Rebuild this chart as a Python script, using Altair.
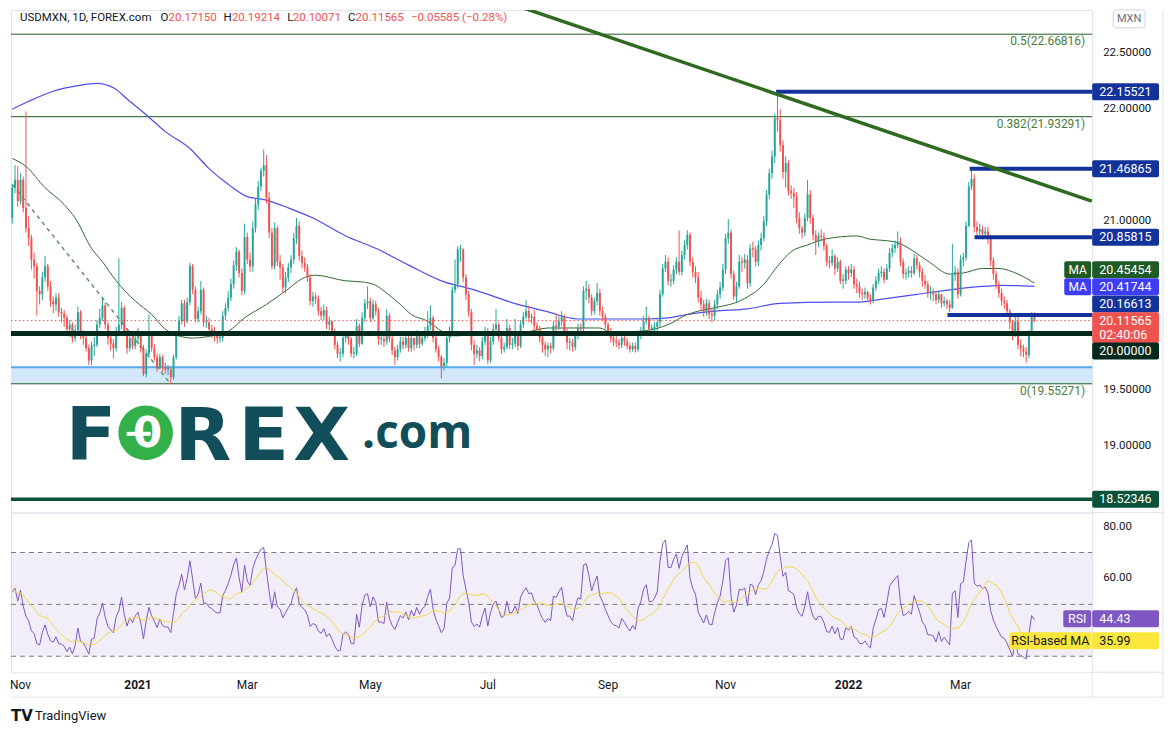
import altair as alt
import pandas as pd
import numpy as np

# ---------------- data ----------------
first_open = 21.03
closes = [
 21.30,21.37,21.18,21.37,21.12,20.94,20.85,20.66,20.60,20.38,20.35,20.50,20.60,20.42,20.29,20.26,20.32,20.19,20.18,20.14,
 20.04,20.08,19.96,20.03,20.19,19.98,19.96,19.87,19.76,19.89,19.90,20.08,20.14,20.25,20.08,19.96,19.91,19.87,20.02,20.08,
 20.23,20.02,19.87,19.96,19.89,19.96,20.00,19.87,19.64,19.82,19.98,19.87,19.79,19.70,19.79,19.70,19.68,19.68,19.61,19.79,20.00,
 20.11,20.27,20.11,20.28,20.60,20.39,20.13,20.20,20.39,20.10,20.10,20.04,20.02,19.98,19.96,19.96,20.16,20.23,20.32,20.44,
 20.61,20.73,20.54,20.38,20.86,20.66,20.60,20.94,21.15,21.31,21.45,21.50,21.21,20.90,20.60,20.94,20.64,20.59,20.41,20.50,
 20.59,20.66,20.85,20.96,20.69,20.63,20.59,20.50,20.29,20.33,20.31,20.20,20.16,20.21,20.08,20.11,20.02,19.90,19.82,19.82,19.96,
 19.98,19.95,19.82,19.82,20.07,19.91,20.14,20.27,20.29,20.14,20.26,20.20,19.95,19.95,19.93,20.16,19.95,19.85,19.79,19.86,
 19.93,19.90,19.96,19.87,19.96,19.90,19.98,19.91,19.96,19.98,20.07,20.14,19.96,19.86,19.79,19.71,19.74,19.96,20.01,20.39,
 20.44,20.75,20.75,20.50,20.35,20.19,19.90,19.82,19.85,19.80,19.93,
 20.02,19.76,19.93,20.04,20.08,19.96,19.86,19.88,20.05,19.90,19.91,19.98,19.89,20.08,20.15,20.20,20.14,20.15,20.07,20.04,
 19.96,19.90,19.86,19.89,19.87,20.07,20.06,20.11,20.15,20.02,19.92,19.92,19.88,19.98,20.05,20.04,20.38,20.40,20.32,20.20,
 20.29,20.36,20.20,20.15,20.08,20.02,19.96,19.93,19.92,19.90,19.96,19.93,19.89,19.86,19.89,19.86,19.98,20.02,20.11,20.14,
 20.04,20.04,20.06,20.10,20.35,20.58,20.64,20.47,20.47,20.57,20.64,20.55,20.70,20.79,20.88,
 20.64,20.55,20.50,20.32,20.26,20.20,20.27,20.17,20.16,20.26,20.35,20.41,20.57,20.85,20.90,20.53,20.33,20.42,20.64,20.63,
 20.66,20.45,20.76,20.75,20.64,20.79,20.85,21.00,21.24,21.43,21.58,21.92,21.90,21.68,21.44,21.52,21.27,21.25,21.22,21.03,
 20.94,20.90,21.03,21.24,21.03,20.88,20.82,20.87,20.86,20.78,20.64,20.63,20.69,20.58,20.64,20.47,20.47,20.57,
 20.54,20.57,20.44,20.42,20.36,20.35,20.37,20.32,20.29,20.41,20.47,20.54,20.55,20.48,20.58,20.72,20.76,20.79,20.82,20.64,
 20.53,20.54,20.56,20.54,20.67,20.61,20.55,20.47,20.44,20.36,20.36,20.35,20.30,20.35,20.27,20.29,20.26,20.23,20.53,20.55,
 20.35,20.66,20.68,20.96,21.31,21.38,20.95,20.91,20.93,20.89,20.91,20.85,20.65,20.53,20.44,20.36,20.29,20.27,20.20,20.10,
 19.99,20.11,19.90,19.87,19.84,19.81,20.00,20.17,20.12]
highs = [
 21.33,21.50,21.49,21.43,21.40,21.98,21.05,20.88,20.72,20.63,20.42,20.55,20.69,20.62,20.47,20.33,20.36,20.36,20.23,20.21,
 20.17,20.12,20.10,20.08,20.24,20.21,20.03,19.99,19.90,19.93,19.97,20.12,20.22,20.32,20.28,20.10,19.99,19.95,20.06,20.67,
 20.28,20.25,20.05,20.00,20.01,20.00,20.05,20.02,19.90,19.86,20.17,20.02,19.91,19.82,19.82,19.81,19.74,19.72,19.70,19.81,20.02,
 20.16,20.30,20.30,20.32,20.63,20.62,20.42,20.24,20.47,20.41,20.16,20.14,20.08,20.06,20.02,20.00,20.20,20.27,20.38,20.49,
 20.65,20.77,20.75,20.58,20.98,20.90,20.72,21.00,21.20,21.36,21.48,21.64,21.59,21.26,20.94,20.99,20.96,20.70,20.62,20.55,
 20.63,20.70,20.90,21.03,21.00,20.74,20.68,20.62,20.53,20.37,20.36,20.34,20.24,20.26,20.24,20.15,20.10,20.04,19.93,19.87,20.00,
 20.02,20.01,19.97,19.88,20.13,20.09,20.19,20.31,20.42,20.32,20.30,20.29,20.23,20.00,19.99,20.22,20.18,19.98,19.88,19.90,
 19.97,19.97,20.00,19.99,20.00,19.95,20.03,20.01,20.00,20.06,20.20,20.25,20.16,19.99,19.89,19.81,19.78,20.00,20.06,20.42,
 20.66,20.78,20.79,20.76,20.53,20.38,20.22,19.94,19.90,19.88,19.97,
 20.06,20.05,19.97,20.09,20.22,20.10,19.99,19.92,20.13,20.08,19.96,20.13,20.01,20.12,20.19,20.30,20.25,20.18,20.21,20.10,
 20.07,20.00,19.93,19.92,19.92,20.11,20.18,20.16,20.20,20.17,20.05,19.96,19.95,20.02,20.09,20.09,20.42,20.47,20.44,20.35,
 20.32,20.45,20.40,20.24,20.18,20.10,20.05,19.99,19.98,19.95,20.00,19.99,19.96,19.92,19.92,19.92,20.01,20.06,20.16,20.24,
 20.16,20.08,20.10,20.14,20.39,20.62,20.70,20.68,20.53,20.61,20.68,20.92,20.74,20.83,20.92,
 20.90,20.68,20.60,20.55,20.38,20.30,20.31,20.30,20.22,20.30,20.39,20.46,20.62,20.89,21.02,20.93,20.56,20.46,20.70,20.68,
 20.71,20.70,20.80,20.82,20.78,20.83,20.90,21.05,21.28,21.47,21.63,21.96,22.155,22.00,21.72,21.58,21.55,21.32,21.30,21.26,
 21.08,20.96,21.07,21.37,21.28,21.06,20.92,20.90,20.93,20.90,20.80,20.69,20.75,20.71,20.68,20.66,20.53,20.60,
 20.60,20.62,20.60,20.49,20.46,20.40,20.41,20.38,20.35,20.44,20.51,20.58,20.60,20.58,20.62,20.76,20.80,20.83,20.91,20.86,
 20.67,20.58,20.60,20.60,20.71,20.70,20.64,20.58,20.52,20.47,20.42,20.40,20.38,20.38,20.35,20.33,20.31,20.30,20.80,20.60,
 20.58,20.70,20.72,21.00,21.35,21.47,21.42,21.00,20.98,20.96,20.95,20.95,20.88,20.68,20.56,20.47,20.40,20.33,20.30,20.22,
 20.12,20.15,20.15,19.95,19.90,19.88,20.03,20.19,20.19]
lows = [
 20.98,21.25,21.13,21.15,21.08,20.90,20.78,20.57,20.49,20.16,20.26,20.30,20.46,20.38,20.24,20.18,20.20,20.15,20.10,20.06,
 19.99,19.97,19.92,19.93,20.01,19.95,19.90,19.84,19.72,19.72,19.80,19.88,20.05,20.11,20.04,19.90,19.85,19.78,19.84,19.99,
 20.04,19.98,19.82,19.84,19.86,19.86,19.93,19.83,19.62,19.61,19.78,19.84,19.76,19.66,19.68,19.66,19.64,19.63,19.55,19.59,19.77,
 19.97,20.08,20.06,20.09,20.25,20.35,20.10,20.10,20.17,20.06,20.05,20.00,19.96,19.93,19.91,19.92,19.93,20.12,20.20,20.29,
 20.40,20.56,20.50,20.34,20.35,20.62,20.55,20.55,20.90,21.10,21.27,21.40,21.16,20.85,20.57,20.57,20.60,20.48,20.36,20.36,
 20.46,20.54,20.62,20.80,20.65,20.58,20.55,20.46,20.25,20.24,20.26,20.16,20.12,20.12,20.04,20.03,19.98,19.86,19.78,19.75,19.79,
 19.92,19.90,19.79,19.78,19.80,19.88,19.90,20.10,20.22,20.10,20.12,20.16,19.90,19.90,19.88,19.90,19.92,19.81,19.72,19.76,
 19.83,19.86,19.87,19.84,19.84,19.85,19.87,19.87,19.89,19.93,19.96,20.03,19.92,19.83,19.75,19.60,19.67,19.70,19.92,19.99,
 20.36,20.40,20.64,20.46,20.30,20.15,19.85,19.72,19.78,19.75,19.77,
 19.90,19.73,19.74,19.90,20.02,19.93,19.82,19.83,19.86,19.86,19.86,19.88,19.85,19.87,20.05,20.13,20.10,20.09,20.03,19.99,
 19.92,19.83,19.80,19.79,19.82,19.85,20.02,20.03,20.07,19.99,19.86,19.85,19.84,19.85,19.95,19.99,20.02,20.30,20.27,20.16,
 20.17,20.25,20.16,20.11,20.04,19.98,19.92,19.89,19.88,19.86,19.87,19.89,19.86,19.83,19.84,19.83,19.84,19.95,20.00,20.08,
 20.00,19.98,20.01,20.02,20.06,20.33,20.55,20.43,20.42,20.44,20.53,20.52,20.52,20.66,20.75,
 20.60,20.50,20.45,20.28,20.20,20.15,20.16,20.13,20.10,20.12,20.22,20.31,20.38,20.53,20.80,20.49,20.30,20.28,20.40,20.55,
 20.58,20.40,20.42,20.68,20.60,20.60,20.74,20.82,20.96,21.20,21.38,21.52,21.80,21.62,21.38,21.30,21.23,21.20,21.12,20.98,
 20.89,20.85,20.87,21.00,20.98,20.83,20.70,20.77,20.82,20.74,20.60,20.58,20.60,20.52,20.55,20.44,20.40,20.44,
 20.48,20.50,20.40,20.36,20.32,20.30,20.31,20.28,20.26,20.27,20.38,20.44,20.50,20.45,20.48,20.55,20.68,20.72,20.76,20.60,
 20.49,20.48,20.50,20.50,20.52,20.57,20.50,20.42,20.40,20.32,20.30,20.29,20.26,20.27,20.23,20.24,20.22,20.19,20.22,20.47,
 20.31,20.33,20.60,20.65,20.95,21.28,20.90,20.86,20.88,20.84,20.86,20.80,20.60,20.48,20.40,20.32,20.25,20.22,20.15,20.04,
 19.94,19.97,19.86,19.80,19.79,19.74,19.78,19.98,20.10]

# moving averages (knots: bar number, price)
blue_ma_idx = [0,6,15,24,31,37,43,49,56,65,72,79,86,93,101,110,122,133,145,157,169,185,195,207,219,231,240,247,257,269,
               281,300,309,319,331,343,355,362,374]
blue_ma_val = [22.00,22.07,22.16,22.21,22.23,22.19,22.07,21.95,21.80,21.65,21.47,21.33,21.22,21.19,21.12,21.03,20.87,20.76,
               20.61,20.47,20.39,20.26,20.20,20.13,20.13,20.13,20.14,20.17,20.20,20.22,20.27,20.28,20.28,20.31,20.35,20.39,
               20.42,20.43,20.42]
green_ma_idx = [0,5,12,19,23,29,33,38,45,51,56,61,66,73,79,85,93,100,107,111,122,128,133,136,142,146,152,156,160,163,
                169,185,196,207,215,219,229,235,240,247,251,257,267,275,280,285,291,297,309,314,319,324,330,336,343,348,
                355,361,368,374]
green_ma_val = [21.56,21.49,21.30,21.15,21.03,20.76,20.64,20.47,20.29,20.17,20.04,19.98,19.96,19.98,20.02,20.14,20.26,20.38,
                20.50,20.52,20.47,20.46,20.43,20.38,20.26,20.17,20.11,20.04,19.98,19.98,20.00,20.00,20.05,20.05,20.05,20.01,
                20.02,20.04,20.08,20.17,20.20,20.23,20.30,20.44,20.60,20.73,20.79,20.84,20.87,20.84,20.83,20.81,20.73,20.63,
                20.53,20.54,20.58,20.58,20.53,20.45]

month_starts = ["2020-11-02", "2021-01-04", "2021-03-01", "2021-05-03", "2021-07-01",
                "2021-09-01", "2021-11-01", "2022-01-03", "2022-03-01"]
month_labels = ["Nov", "2021", "Mar", "May", "Jul", "Sep", "Nov", "2022", "Mar"]
price_ticks = [18.5, 19.0, 19.5, 20.0, 20.5, 21.0, 21.5, 22.0, 22.5]
price_tick_labels_shown = [19.0, 19.5, 21.0, 22.0, 22.5]   # the others sit behind the value boxes
rsi_ticks = [40, 60, 80]
rsi_tick_labels_shown = [60, 80]
rsi_levels = [70, 50, 30]

fib_ratio = ["0.5", "0.382", "0"]
fib_price = [22.66816, 21.93291, 19.55271]
zone_low, zone_high = 19.55271, 19.70
level_price = [20.0, 18.52346]
ray_price = [22.15521, 21.46865, 20.85815, 20.16613]
ray_start = [279.5, 350.3, 352.1, 342.2]
trend_idx = [180, 395]
trend_val = [22.96, 21.18]
dash_idx = [0, 58]
dash_val = [21.33, 19.55]
last_price = 20.11565
header_text = ["USDMXN, 1D, FOREX.com", "O", "20.17150", "H", "20.19214", "L", "20.10071", "C", "20.11565",
               "\u22120.05585 (\u22120.28%)"]
rsi_seed_gain, rsi_seed_loss = 0.07, 0.075
rsi_last_text, rsi_ma_last_text = "44.43", "35.99"

# ---------------- layout constants ----------------
W, H1, H2 = 1084, 504, 160
XD = [-0.47, 395.15]
YD = [18.4044, 22.8844]
RD = [23.85, 85.38]
PPU = H1 / (YD[1] - YD[0])
FONT = "Roboto"
UP, DN = "#26a69a", "#ef5350"
NAVY = "#13339a"
TXT = "#131722"
GRID = "#f0f3fa"
FR = "#e0e3eb"

n = len(closes)
assert len(highs) == n and len(lows) == n, (n, len(highs), len(lows))
opens = [first_open] + closes[:-1]
df = pd.DataFrame({"i": np.arange(n), "o": opens, "h": highs, "l": lows, "c": closes})
df["h"] = df[["h", "o", "c"]].max(axis=1)
df["l"] = df[["l", "o", "c"]].min(axis=1)
df["col"] = np.where(df.c >= df.o, UP, DN)
df["bt"] = df[["o", "c"]].max(axis=1)
df["bb"] = df[["o", "c"]].min(axis=1)
thin = (df.bt - df.bb) < 0.012
df.loc[thin, "bt"] = df.loc[thin, "bb"] + 0.012
df["x0"] = df.i - 0.36
df["x1"] = df.i + 0.36

dates = pd.bdate_range("2020-10-28", periods=n, freq="C", holidays=["2020-12-25", "2021-01-01"])
tick_idx = [int(dates.get_loc(pd.Timestamp(d))) for d in month_starts]

# RSI(14) with Wilder smoothing from the closes, and its 14-bar average
ag, al, prev = rsi_seed_gain, rsi_seed_loss, first_open
rsi = []
for c in closes:
    ch = c - prev
    prev = c
    ag = (ag * 13 + max(ch, 0)) / 14
    al = (al * 13 + max(-ch, 0)) / 14
    rsi.append(100 - 100 / (1 + ag / al))
rsi_df = pd.DataFrame({"i": np.arange(n), "rsi": rsi})
rsi_df["ma"] = rsi_df.rsi.rolling(14, min_periods=1).mean()

xs = alt.Scale(domain=XD, nice=False, zero=False)
ys = alt.Scale(domain=YD, nice=False, zero=False)
rs = alt.Scale(domain=RD, nice=False, zero=False)
one = pd.DataFrame({"a": [0]})


def Xi(f):
    return alt.X(f, type="quantitative", scale=xs, axis=None)


def Yp(f):
    return alt.Y(f, type="quantitative", scale=ys, axis=None)


def Yr(f):
    return alt.Y(f, type="quantitative", scale=rs, axis=None)


def full_rule(data, field, yfun, **mk):
    return alt.Chart(data).mark_rule(**mk).encode(x=alt.value(0), x2=alt.value(W), y=yfun(field))


grid_x = alt.Axis(values=tick_idx, labels=False, ticks=False, grid=True, gridColor=GRID, domain=True,
                  domainColor=FR, title=None)

# ---------------- price pane ----------------
layers = []
zone_df = pd.DataFrame({"lo": [zone_low], "hi": [zone_high]})
layers.append(alt.Chart(zone_df).mark_rect(color="#d3e7fb").encode(
    x=alt.value(0), x2=alt.value(W),
    y=alt.Y("lo:Q", scale=ys, axis=alt.Axis(orient="right", values=price_ticks, labels=False, grid=True, gridColor=GRID,
                                            ticks=False, domain=True, domainColor=FR, title=None)),
    y2="hi:Q"))
layers.append(full_rule(zone_df, "hi", Yp, color="#5aa9ec", strokeWidth=2))

# price scale labels
pt_df = pd.DataFrame({"v": price_tick_labels_shown})
pt_df["t"] = pt_df.v.map(lambda v: f"{v:.5f}")
layers.append(alt.Chart(pt_df).mark_text(align="left", baseline="middle", font=FONT, fontSize=11.5, color=TXT).encode(
    x=alt.value(W + 11), y=Yp("v"), text="t:N"))

fib_df = pd.DataFrame({"p": fib_price, "r": fib_ratio})
fib_df["lab"] = fib_df.r + "(" + fib_df.p.map(lambda v: f"{v:.5f}") + ")"
layers.append(full_rule(fib_df, "p", Yp, color="#1f5a1f", strokeWidth=1))
layers.append(alt.Chart(fib_df).mark_text(align="right", baseline="top", dy=2, font=FONT, fontSize=12,
                                          color="#4b7d40").encode(x=alt.value(1077), y=Yp("p"), text="lab:N"))

blue_df = pd.DataFrame({"i": blue_ma_idx, "v": blue_ma_val})
green_df = pd.DataFrame({"i": green_ma_idx, "v": green_ma_val})
layers.append(alt.Chart(blue_df).mark_line(color="#4d4df2", strokeWidth=1.2, interpolate="monotone").encode(
    x=alt.X("i:Q", scale=xs, axis=grid_x), y=Yp("v")))
layers.append(alt.Chart(green_df).mark_line(color="#2f6a30", strokeWidth=1, interpolate="monotone").encode(x=Xi("i"), y=Yp("v")))

dash_df = pd.DataFrame({"i": dash_idx, "v": dash_val})
layers.append(alt.Chart(dash_df).mark_line(color="#5e8f5e", strokeWidth=1.5, strokeDash=[4, 4]).encode(x=Xi("i"), y=Yp("v")))

# candles
layers.append(alt.Chart(df).mark_rule(strokeWidth=1).encode(
    x=Xi("i"), y=Yp("l"), y2="h:Q", color=alt.Color("col:N", scale=None)))
layers.append(alt.Chart(df).mark_rect().encode(x=Xi("x0"), x2="x1:Q", y=Yp("bb"), y2="bt:Q", color=alt.Color("col:N", scale=None)))

last_df = pd.DataFrame({"p": [last_price]})
layers.append(full_rule(last_df, "p", Yp, color="#ef5350", strokeWidth=1, strokeDash=[1.5, 2.5]))

ray_df = pd.DataFrame({"p": ray_price, "s": ray_start})
layers.append(alt.Chart(ray_df).mark_rule(color=NAVY, strokeWidth=4).encode(x=Xi("s"), x2=alt.value(W), y=Yp("p")))

lvl_df = pd.DataFrame({"p": level_price})
layers.append(full_rule(lvl_df.iloc[[0]], "p", Yp, color="#022a1c", strokeWidth=5))
layers.append(full_rule(lvl_df.iloc[[1]], "p", Yp, color="#0b5238", strokeWidth=3.5))

trend_df = pd.DataFrame({"i": trend_idx, "v": trend_val})
layers.append(alt.Chart(trend_df).mark_line(color="#2e6b20", strokeWidth=3.5, clip=True).encode(x=Xi("i"), y=Yp("v")))

# header
hcol = [TXT, TXT, DN, TXT, DN, TXT, DN, TXT, DN, DN]
hx = [9, 150, 158, 213, 221.5, 277, 282.5, 338, 345.5, 401]
head_df = pd.DataFrame({"t": header_text, "x": hx, "c": hcol})
layers.append(alt.Chart(head_df).mark_text(align="left", baseline="middle", font=FONT, fontSize=11.5).encode(
    x=alt.X("x:Q", scale=None), y=alt.value(8), text="t:N", color=alt.Color("c:N", scale=None)))
layers.append(alt.Chart(one).mark_rect(fill="white", stroke="#d1d4dc", cornerRadius=3).encode(
    x=alt.value(1105), x2=alt.value(1137), y=alt.value(0), y2=alt.value(18)))
layers.append(alt.Chart(one).mark_text(text="MXN", font=FONT, fontSize=11, color="#6a6d78").encode(
    x=alt.value(1121), y=alt.value(9)))

# logo
TEAL = "#124d5a"
logo_df = pd.DataFrame({"t": ["F", "R", "E", "X"], "x": [55, 164, 228, 283]})
layers.append(alt.Chart(logo_df).mark_text(align="left", baseline="alphabetic", font="DejaVu Sans", fontWeight="bold",
                                           fontSize=74, color=TEAL).encode(x=alt.X("x:Q", scale=None), y=alt.value(451), text="t:N"))
layers.append(alt.Chart(one).mark_circle(size=3000, color="#33b04a", opacity=1).encode(x=alt.value(135), y=alt.value(424)))
layers.append(alt.Chart(one).mark_text(text="0", font="DejaVu Sans", fontWeight="bold", fontSize=42, color="white").encode(
    x=alt.value(137), y=alt.value(425)))
layers.append(alt.Chart(one).mark_rule(color="white", strokeWidth=4).encode(
    x=alt.value(116), x2=alt.value(140), y=alt.value(425)))
layers.append(alt.Chart(one).mark_text(text=".com", align="left", baseline="alphabetic", font="Open Sans", fontWeight="bold",
                                       fontSize=46, color=TEAL).encode(x=alt.value(352), y=alt.value(439)))

# right-side price boxes
box_rows = [
    # price, nudge(px, + is down), half height, fill, text colour, text
    (22.15521, 0, 8.5, NAVY, "white", "22.15521"),
    (21.46865, 0, 8.5, NAVY, "white", "21.46865"),
    (20.85815, 0, 8.5, NAVY, "white", "20.85815"),
    (20.45454, -13, 8.5, "#1f5b25", "white", "20.45454"),
    (20.41744, 0, 8.5, "#3d3df5", "white", "20.41744"),
    (20.16613, -11, 8.5, NAVY, "white", "20.16613"),
    (20.11565, 7, 15.5, "#ef5350", "white", ""),
    (20.00000, 17.5, 8.5, "#03291c", "white", "20.00000"),
    (18.52346, 0, 8.5, "#0b5238", "white", "18.52346"),
]
bx = pd.DataFrame(box_rows, columns=["p", "nudge", "hh", "fill", "tc", "t"])
bx["yc"] = bx.p - bx.nudge / PPU
bx["yt"] = bx.yc + bx.hh / PPU
bx["yb"] = bx.yc - bx.hh / PPU
layers.append(alt.Chart(bx).mark_rect(cornerRadius=2).encode(
    x=alt.value(W), x2=alt.value(W + 67), y=Yp("yt"), y2="yb:Q", color=alt.Color("fill:N", scale=None)))
btxt = bx[bx.t != ""].copy()
extra = pd.DataFrame({"p": [last_price, last_price], "nudge": [0.5, 14.5], "t": ["20.11565", "02:40:06"], "tc": ["white", "white"]})
extra["yc"] = extra.p - extra.nudge / PPU
btxt = pd.concat([btxt[["yc", "t", "tc"]], extra[["yc", "t", "tc"]]])
layers.append(alt.Chart(btxt).mark_text(align="left", baseline="middle", font=FONT, fontSize=12.5).encode(
    x=alt.value(W + 7), y=Yp("yc"), text="t:N", color=alt.Color("tc:N", scale=None)))
ma_tag = bx.iloc[[3, 4]].copy()
ma_tag["t"] = "MA"
layers.append(alt.Chart(ma_tag).mark_rect(cornerRadius=2).encode(
    x=alt.value(W - 28), x2=alt.value(W - 1), y=Yp("yt"), y2="yb:Q", color=alt.Color("fill:N", scale=None)))
layers.append(alt.Chart(ma_tag).mark_text(align="center", baseline="middle", font=FONT, fontSize=12, color="white").encode(
    x=alt.value(W - 14.5), y=Yp("yc"), text="t:N"))

price = alt.layer(*layers).properties(width=W, height=H1)

# ---------------- RSI pane ----------------
RPU = H2 / (RD[1] - RD[0])
r_layers = []
band_df = pd.DataFrame({"top": [max(rsi_levels)], "bot": [min(rsi_levels)]})
r_layers.append(alt.Chart(band_df).mark_rect(color="#7e57c2", opacity=0.1).encode(
    x=alt.value(0), x2=alt.value(W),
    y=alt.Y("top:Q", scale=rs, axis=alt.Axis(orient="right", values=rsi_ticks, labels=False, grid=True, gridColor=GRID,
                                             ticks=False, domain=True, domainColor=FR, title=None)),
    y2="bot:Q"))
rt_df = pd.DataFrame({"v": rsi_tick_labels_shown})
rt_df["t"] = rt_df.v.map(lambda v: f"{v:.2f}")
r_layers.append(alt.Chart(rt_df).mark_text(align="left", baseline="middle", font=FONT, fontSize=11.5, color=TXT).encode(
    x=alt.value(W + 11), y=Yr("v"), text="t:N"))
lv_df = pd.DataFrame({"v": rsi_levels})
r_layers.append(full_rule(lv_df, "v", Yr, color="#787b86", strokeWidth=1, strokeDash=[5, 4]))
r_layers.append(alt.Chart(rsi_df).mark_line(color="#7e57c2", strokeWidth=1).encode(
    x=alt.X("i:Q", scale=xs, axis=grid_x), y=Yr("rsi")))
r_layers.append(alt.Chart(rsi_df).mark_line(color="#f5d545", strokeWidth=1).encode(x=Xi("i"), y=Yr("ma")))

# time scale labels
tl_df = pd.DataFrame({"i": tick_idx, "t": month_labels})
tl_df["year"] = tl_df.t.str.isdigit()
r_layers.append(alt.Chart(tl_df[~tl_df.year]).mark_text(baseline="middle", font=FONT, fontSize=12, color=TXT).encode(
    x=Xi("i"), y=alt.value(H2 + 13), text="t:N"))
r_layers.append(alt.Chart(tl_df[tl_df.year]).mark_text(baseline="middle", font=FONT, fontSize=12, fontWeight="bold",
                                                       color=TXT).encode(x=Xi("i"), y=alt.value(H2 + 13), text="t:N"))

rl = pd.DataFrame({"v": [float(rsi_last_text), float(rsi_ma_last_text)], "t": [rsi_last_text, rsi_ma_last_text],
                   "tag": ["RSI", "RSI-based MA"], "fill": ["#7e57c2", "#fbe63c"], "tc": ["white", TXT],
                   "tx0": [W - 29, W - 83]})
rl["yt"] = rl.v + 8.5 / RPU
rl["yb"] = rl.v - 8.5 / RPU
rl["tcx"] = (rl.tx0 + W - 1) / 2
r_layers.append(alt.Chart(rl).mark_rect(cornerRadius=2).encode(
    x=alt.value(W), x2=alt.value(W + 67), y=Yr("yt"), y2="yb:Q", color=alt.Color("fill:N", scale=None)))
r_layers.append(alt.Chart(rl).mark_rect(cornerRadius=2).encode(
    x=alt.X("tx0:Q", scale=None), x2=alt.value(W - 1), y=Yr("yt"), y2="yb:Q", color=alt.Color("fill:N", scale=None)))
r_layers.append(alt.Chart(rl).mark_text(align="left", baseline="middle", font=FONT, fontSize=12.5).encode(
    x=alt.value(W + 7), y=Yr("v"), text="t:N", color=alt.Color("tc:N", scale=None)))
r_layers.append(alt.Chart(rl).mark_text(align="center", baseline="middle", font=FONT, fontSize=12.5).encode(
    x=alt.X("tcx:Q", scale=None), y=Yr("v"), text="tag:N", color=alt.Color("tc:N", scale=None)))

# frame and footer
r_layers.append(alt.Chart(one).mark_rule(color=FR, strokeWidth=1).encode(x=alt.value(0), x2=alt.value(1155), y=alt.value(185)))
r_layers.append(alt.Chart(one).mark_rule(color=FR, strokeWidth=1).encode(x=alt.value(1155), y=alt.value(-504), y2=alt.value(185)))
r_layers.append(alt.Chart(one).mark_rule(color=FR, strokeWidth=1).encode(x=alt.value(W), x2=alt.value(1155), y=alt.value(0)))
r_layers.append(alt.Chart(one).mark_rule(color=FR, strokeWidth=1).encode(x=alt.value(W), x2=alt.value(1155), y=alt.value(H2)))
r_layers.append(alt.Chart(one).mark_rule(color=FR, strokeWidth=1).encode(x=alt.value(W), y=alt.value(H2), y2=alt.value(185)))
r_layers.append(alt.Chart(one).mark_text(text="TV", align="left", baseline="middle", font="DejaVu Sans", fontWeight="bold",
                                         fontSize=15, color=TXT).encode(x=alt.value(0), y=alt.value(204)))
r_layers.append(alt.Chart(one).mark_text(text="TradingView", align="left", baseline="middle", font=FONT, fontSize=13,
                                         color=TXT).encode(x=alt.value(24), y=alt.value(204)))

rsi_chart = alt.layer(*r_layers).properties(width=W, height=H2)

chart = alt.vconcat(price, rsi_chart, spacing=0, bounds="flush").properties(
    padding={"left": 0, "top": 0, "right": 0, "bottom": 0}, background="white"
).configure_view(stroke=FR).configure_axis(gridColor=GRID, domainColor=FR)

chart.save("out.html", embed_options={"renderer": "svg", "actions": False})
